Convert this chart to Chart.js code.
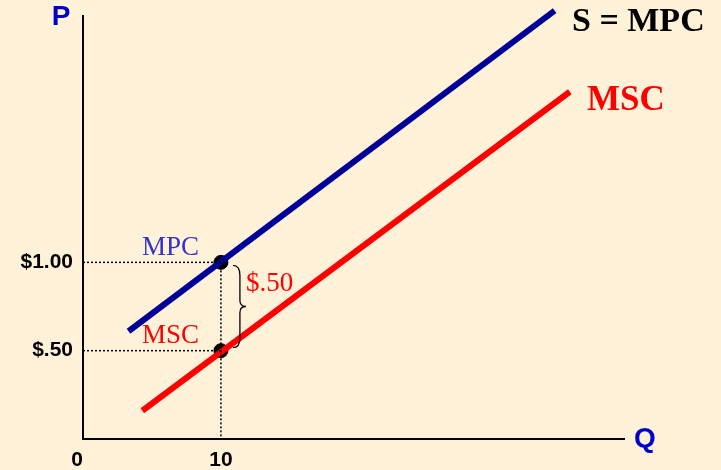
<!DOCTYPE html><html><head><meta charset="utf-8">
<script src="https://cdn.jsdelivr.net/npm/chart.js@4/dist/chart.umd.min.js"></script>
<style>html,body{margin:0;background:#FFF2D9;}#c{display:block}</style></head><body>
<div style="width:721px;height:470px"><canvas id="c"></canvas></div>
<script>
const mpcLine = [{x:3.3,y:0.61},{x:34.2,y:2.425}];
const mscLine = [{x:4.3,y:0.16},{x:35.3,y:1.966}];
const points = [{x:10,y:1.0},{x:10,y:0.5}];
const xTicks = [{v:0,t:"0"},{v:10,t:"10"}];
const yTicks = [{v:1.0,t:"$1.00"},{v:0.5,t:"$.50"}];

const deco = {id:'deco', afterDatasetsDraw(ch){
  const c=ch.ctx,xs=ch.scales.x,ys=ch.scales.y;
  const X=v=>xs.getPixelForValue(v),Y=v=>ys.getPixelForValue(v);
  c.save();
  c.strokeStyle='#000';c.lineWidth=2;
  c.beginPath();c.moveTo(X(0),Y(2.4));c.lineTo(X(0),Y(0));c.lineTo(X(39.3),Y(0));c.stroke();
  c.lineWidth=1.5;c.setLineDash([2,2]);
  points.forEach(p=>{c.beginPath();c.moveTo(X(0),Y(p.y));c.lineTo(X(p.x),Y(p.y));c.stroke();});
  c.beginPath();c.moveTo(X(10),Y(1));c.lineTo(X(10),Y(0));c.stroke();
  c.setLineDash([]);
  const bx=X(10)+19,t=Y(1)+3,b=Y(0.5)-3,m=(t+b)/2;
  c.lineWidth=1.3;c.beginPath();
  c.moveTo(bx-7,t);c.quadraticCurveTo(bx,t,bx,t+10);c.lineTo(bx,m-6);c.quadraticCurveTo(bx,m,bx+6,m);
  c.quadraticCurveTo(bx,m,bx,m+6);c.lineTo(bx,b-10);c.quadraticCurveTo(bx,b,bx-7,b);c.stroke();
  c.fillStyle='#000';c.font='bold 21px "Liberation Sans",Arial';c.textBaseline='middle';
  c.textAlign='right';yTicks.forEach(k=>c.fillText(k.t,X(0)-10,Y(k.v)));
  c.textAlign='center';c.textBaseline='top';xTicks.forEach(k=>c.fillText(k.t,X(k.v)-(k.v?0:6),Y(0)+11));
  c.fillStyle='#0000CC';c.font='bold 28px "Liberation Sans",Arial';c.textBaseline='middle';
  c.fillText('P',61,17);c.fillText('Q',645,439);
  c.font='bold 34px "Liberation Serif",serif';c.textAlign='left';
  c.fillStyle='#000';c.fillText('S = MPC',572,22);
  c.font='bold 35px "Liberation Serif",serif';
  c.fillStyle='#FF0000';c.fillText('MSC',587,101);
  c.font='27px "Liberation Serif",serif';
  c.fillStyle='#3333CC';c.fillText('MPC',142,248);
  c.fillStyle='#FF0000';c.fillText('MSC',142,336);c.fillText('$.50',246,284);
  c.restore();
}};
new Chart(document.getElementById('c'),{type:'scatter',
data:{datasets:[
 {data:mpcLine,showLine:true,borderColor:'#000099',borderWidth:6,pointRadius:0,borderCapStyle:'butt'},
 {data:mscLine,showLine:true,borderColor:'#FF0000',borderWidth:6,pointRadius:0},
 {data:points,pointRadius:7,pointBackgroundColor:'#000',pointBorderColor:'#000'}]},
options:{responsive:true,maintainAspectRatio:false,animation:false,clip:false,
 layout:{padding:{left:83,right:96,top:2,bottom:31}},
 plugins:{legend:{display:false},tooltip:{enabled:false}},
 scales:{x:{display:false,min:0,max:39.3},y:{display:false,min:0,max:2.44}}},
plugins:[deco]});
</script></body></html>
